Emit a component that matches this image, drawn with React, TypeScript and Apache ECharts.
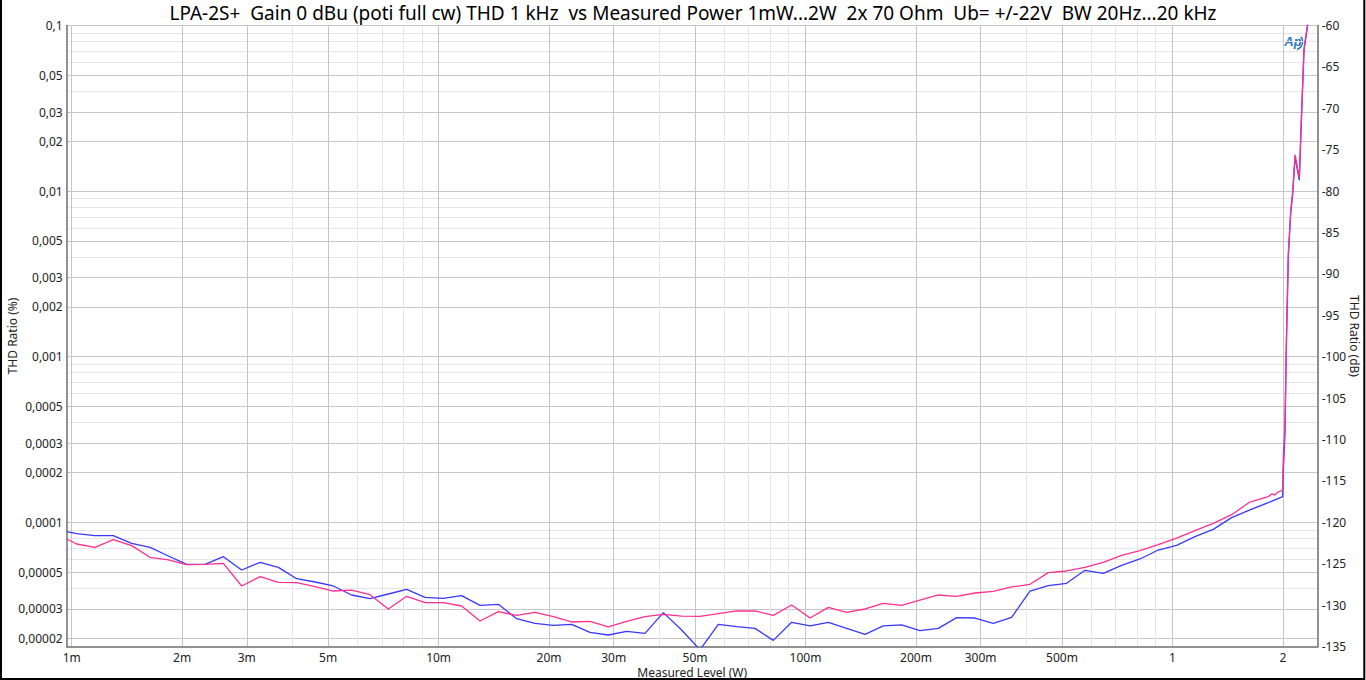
import React, { useEffect, useRef } from 'react';
import * as echarts from 'echarts';

const TITLE =
  'LPA-2S+  Gain 0 dBu (poti full cw) THD 1 kHz  vs Measured Power 1mW...2W  2x 70 Ohm  Ub= +/-22V  BW 20Hz...20 kHz';
const X_NAME = 'Measured Level (W)';
const Y_LEFT_NAME = 'THD Ratio (%)';
const Y_RIGHT_NAME = 'THD Ratio (dB)';

const X_MIN = 0.000969;
const X_MAX = 2.489;
const DB_MIN = -135;
const DB_MAX = -60;
const PCT_MIN = 100 * Math.pow(10, DB_MIN / 20);
const PCT_MAX = 100 * Math.pow(10, DB_MAX / 20);

const X_MAJOR = [0.001, 0.002, 0.003, 0.005, 0.01, 0.02, 0.03, 0.05, 0.1, 0.2, 0.3, 0.5, 1, 2];
const X_MINOR = [
  0.004, 0.006, 0.007, 0.008, 0.009, 0.04, 0.06, 0.07, 0.08, 0.09, 0.4, 0.6, 0.7, 0.8, 0.9,
];
const Y_MAJOR = [
  0.1, 0.05, 0.03, 0.02, 0.01, 0.005, 0.003, 0.002, 0.001, 0.0005, 0.0003, 0.0002, 0.0001,
  0.00005, 0.00003, 0.00002,
];
const Y_MINOR = [
  0.09, 0.08, 0.07, 0.06, 0.04, 0.009, 0.008, 0.007, 0.006, 0.004, 0.0009, 0.0008, 0.0007,
  0.0006, 0.0004, 0.00009, 0.00008, 0.00007, 0.00006, 0.00004,
];

// measured power sweep (W)
const POWER_W = [
  0.000969, 0.001032, 0.001157, 0.001298, 0.001457, 0.001635, 0.001834, 0.002057, 0.002309,
  0.00259, 0.002906, 0.003262, 0.003658, 0.004103, 0.004605, 0.005164, 0.005793, 0.006501,
  0.007294, 0.008182, 0.009182, 0.0103, 0.01155, 0.01297, 0.01455, 0.01632, 0.01831, 0.02054,
  0.02304, 0.02586, 0.02901, 0.03254, 0.03652, 0.04097, 0.04596, 0.05157, 0.05785, 0.0649,
  0.07283, 0.0817, 0.09166, 0.1029, 0.1154, 0.1294, 0.1453, 0.1629, 0.1828, 0.2051, 0.2301,
  0.2581, 0.2897, 0.325, 0.3646, 0.4091, 0.4589, 0.5148, 0.5778, 0.6481, 0.727, 0.8157, 0.915,
  1.027, 1.152, 1.292, 1.45, 1.627, 1.825, 1.998,
];

// channel 1 (blue), THD in dB
const BLUE_DB = [
  -121.13, -121.37, -121.61, -121.61, -122.54, -123.02, -124.07, -125.08, -125.08, -124.15,
  -125.76, -124.83, -125.44, -126.81, -127.21, -127.69, -128.78, -129.22, -128.66, -128.1,
  -129.06, -129.18, -128.86, -130.03, -129.91, -131.64, -132.2, -132.44, -132.32, -133.29,
  -133.61, -133.17, -133.41, -130.91, -133.01, -135.4, -132.32, -132.6, -132.81, -134.26,
  -132.08, -132.52, -132.08, -132.81, -133.53, -132.5, -132.4, -133.09, -132.81, -131.52,
  -131.56, -132.2, -131.48, -128.3, -127.65, -127.37, -125.8, -126.16, -125.2, -124.43,
  -123.35, -122.78, -121.73, -120.85, -119.44, -118.51, -117.63, -116.9,
];

// channel 2 (pink), THD in dB
const PINK_DB = [
  -122.02, -122.62, -123.02, -122.1, -122.82, -124.23, -124.55, -125.12, -125.08, -124.96,
  -127.69, -126.57, -127.25, -127.29, -127.77, -128.3, -128.18, -128.74, -130.47, -128.94,
  -129.71, -129.71, -130.11, -131.92, -130.79, -131.24, -130.87, -131.4, -132.04, -131.96,
  -132.64, -131.96, -131.4, -131.11, -131.32, -131.36, -131.03, -130.71, -130.71, -131.24,
  -129.99, -131.56, -130.27, -130.87, -130.47, -129.79, -130.03, -129.4, -128.78, -128.94,
  -128.54, -128.34, -127.81, -127.49, -126.08, -125.88, -125.44, -124.83, -123.99, -123.43,
  -122.7, -121.9, -121.01, -120.12, -119.08, -117.55, -116.9, -116.1,
];

// extra points near the end of the pink trace (before 2 W)
const PINK_EXTRA_W = [1.865, 1.904, 1.932];
const PINK_EXTRA_DB = [-116.58, -116.7, -116.38];

// clipping region above 2 W
const CLIP_W = [2.005, 2.027, 2.04, 2.049, 2.07, 2.101, 2.128, 2.159, 2.218, 2.242, 2.284, 2.338, 2.36];
const BLUE_CLIP_DB = [-114.0, -109.3, -101.2, -96.8, -87.9, -82.7, -80.3, -75.9, -78.7, -72.6, -63.0, -59.9, -58.5];
const PINK_CLIP_DB = [-112.5, -108.0, -100.5, -96.2, -87.5, -82.4, -80.0, -75.6, -78.4, -72.3, -62.8, -59.7, -58.3];

const FONT = 'Noto Sans';
const LABEL_COLOR = '#222';

function fmtPct(v: number) {
  return String(Number(v.toPrecision(6))).replace('.', ',');
}
function fmtW(v: number) {
  const n = Number(v.toPrecision(6));
  if (n < 1) return Math.round(n * 1000) + 'm';
  return String(n);
}

function buildSeries(w: number[], db: number[]) {
  return w.map((x, i) => [x, db[i]]);
}

export default function App() {
  const ref = useRef<HTMLDivElement>(null);

  useEffect(() => {
    if (!ref.current) return;
    const chart = echarts.init(ref.current, undefined, { renderer: 'svg' });

    const blueData = buildSeries(POWER_W, BLUE_DB).concat(buildSeries(CLIP_W, BLUE_CLIP_DB));
    const pinkBase = buildSeries(POWER_W, PINK_DB);
    const pinkExtra = buildSeries(PINK_EXTRA_W, PINK_EXTRA_DB);
    const pinkData = pinkBase
      .concat(pinkExtra)
      .sort((a, b) => a[0] - b[0])
      .concat(buildSeries(CLIP_W, PINK_CLIP_DB));

    const axisLineStyle = { color: '#6e6e6e', width: 1.5 };

    chart.setOption({
      animation: false,
      backgroundColor: '#fff',
      title: {
        text: TITLE,
        left: 688,
        textAlign: 'center',
        top: -2,
        textStyle: { fontFamily: FONT, fontSize: 19, fontWeight: 'normal', color: '#000' },
      },
      grid: {
        left: 66.7,
        right: 48.3,
        top: 25.5,
        bottom: 33.5,
        containLabel: false,
        outerBoundsMode: 'none',
      },
      xAxis: [
        {
          type: 'log',
          min: X_MIN,
          max: X_MAX,
          name: X_NAME,
          nameLocation: 'middle',
          nameGap: 20,
          nameMoveOverlap: false,
          nameTextStyle: { fontFamily: FONT, fontSize: 12, color: LABEL_COLOR, lineHeight: 12 },
          axisLine: { show: true, onZero: false, lineStyle: axisLineStyle },
          axisTick: { show: false, customValues: X_MAJOR },
          axisLabel: {
            customValues: X_MAJOR,
            formatter: fmtW,
            fontFamily: FONT,
            fontSize: 12,
            lineHeight: 12,
            color: LABEL_COLOR,
            margin: 5,
          },
          splitLine: { show: true, lineStyle: { color: '#c6c6c6', width: 1 } },
        },
        {
          type: 'log',
          min: X_MIN,
          max: X_MAX,
          position: 'bottom',
          axisLine: { show: false },
          axisTick: { show: false, customValues: X_MINOR },
          axisLabel: { show: false, customValues: X_MINOR },
          splitLine: { show: true, lineStyle: { color: '#e6e6e6', width: 1 } },
        },
      ],
      yAxis: [
        {
          type: 'log',
          min: PCT_MIN,
          max: PCT_MAX,
          position: 'left',
          name: Y_LEFT_NAME,
          nameLocation: 'middle',
          nameRotate: 90,
          nameGap: 48,
          nameMoveOverlap: false,
          nameTextStyle: { fontFamily: FONT, fontSize: 12, color: LABEL_COLOR },
          axisLine: { show: true, onZero: false, lineStyle: axisLineStyle },
          axisTick: { show: false, customValues: Y_MAJOR },
          axisLabel: {
            customValues: Y_MAJOR,
            formatter: fmtPct,
            fontFamily: FONT,
            fontSize: 12,
            color: LABEL_COLOR,
            margin: 4,
          },
          splitLine: { show: true, lineStyle: { color: '#c6c6c6', width: 1 } },
        },
        {
          type: 'log',
          min: PCT_MIN,
          max: PCT_MAX,
          position: 'left',
          axisLine: { show: false },
          axisTick: { show: false, customValues: Y_MINOR },
          axisLabel: { show: false, customValues: Y_MINOR },
          splitLine: { show: true, lineStyle: { color: '#e6e6e6', width: 1 } },
        },
        {
          type: 'value',
          min: DB_MIN,
          max: DB_MAX,
          interval: 5,
          position: 'right',
          name: Y_RIGHT_NAME,
          nameLocation: 'middle',
          nameRotate: -90,
          nameGap: 31,
          nameMoveOverlap: false,
          nameTextStyle: { fontFamily: FONT, fontSize: 12, color: LABEL_COLOR },
          axisLine: { show: true, lineStyle: axisLineStyle },
          axisTick: { show: false },
          axisLabel: { fontFamily: FONT, fontSize: 12, color: LABEL_COLOR, margin: 4 },
          splitLine: { show: false },
        },
      ],
      series: [
        {
          name: 'Ch1',
          type: 'line',
          xAxisIndex: 0,
          yAxisIndex: 2,
          data: blueData,
          showSymbol: false,
          symbol: 'none',
          clip: true,
          lineStyle: { color: '#3838ff', width: 1.3 },
          z: 3,
        },
        {
          name: 'Ch2',
          type: 'line',
          xAxisIndex: 0,
          yAxisIndex: 2,
          data: pinkData,
          showSymbol: false,
          symbol: 'none',
          clip: true,
          lineStyle: { color: '#ff2f92', width: 1.3 },
          z: 4,
        },
      ],
      graphic: [
        {
          type: 'rect',
          silent: true,
          shape: { x: 1, y: -5, width: 1363.3, height: 684 },
          style: { fill: 'none', stroke: '#000', lineWidth: 2 },
          z: 100,
        },
        {
          type: 'group',
          x: 1294,
          y: 41.5,
          z: 50,
          children: [
            {
              type: 'arc',
              shape: { cx: 0, cy: 0, r: 8.5, startAngle: -0.6, endAngle: 1.2 },
              style: { stroke: '#2a78bd', lineWidth: 1.6, fill: 'none' },
            },
            {
              type: 'text',
              x: -1,
              y: 0,
              style: {
                text: 'Ap',
                font: 'italic bold 13px Arial',
                fill: '#2a78bd',
                stroke: '#fff',
                lineWidth: 1,
                align: 'center',
                verticalAlign: 'middle',
              },
            },
          ],
        },
      ],
    });

    return () => chart.dispose();
  }, []);

  return (
    <div
      ref={ref}
      style={{ position: 'absolute', left: 0, top: 0, width: 1366, height: 680, background: '#fff' }}
    />
  );
}
